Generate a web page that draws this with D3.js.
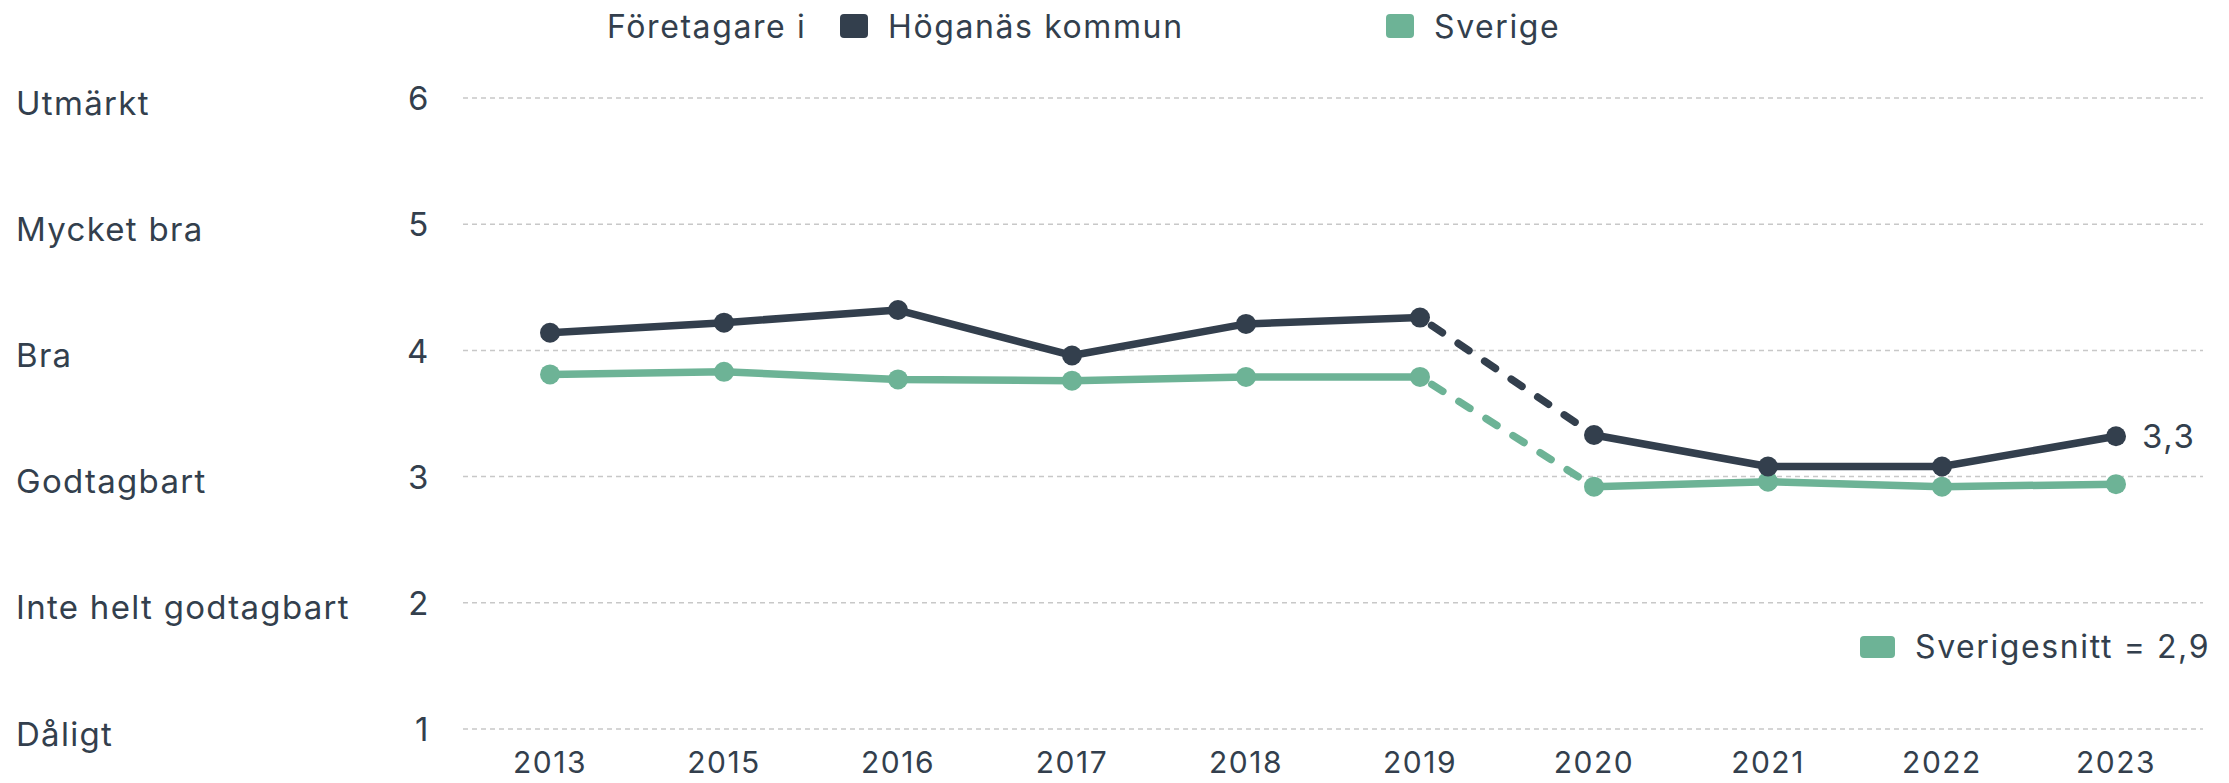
<!DOCTYPE html>
<html>
<head>
<meta charset="utf-8">
<script src="https://cdn.jsdelivr.net/npm/d3@7"></script>
<style>
  body { margin: 0; background: #fff; }
  text { font-family: Inter, "Noto Sans", sans-serif; fill: #333f4d; letter-spacing: 1.6px; }
</style>
</head>
<body>
<div id="chart"></div>
<script>
// years on the x axis
const years = ["2013", "2015", "2016", "2017", "2018", "2019", "2020", "2021", "2022", "2023"];
// index ratings per year
const hoganas = [4.14, 4.22, 4.32, 3.96, 4.21, 4.26, 3.33, 3.08, 3.08, 3.32];
const sverige = [3.81, 3.83, 3.77, 3.76, 3.79, 3.79, 2.92, 2.96, 2.92, 2.94];
// y ticks and their verbal grades
const yTicks = [1, 2, 3, 4, 5, 6];
const gradeLabels = ["Dåligt", "Inte helt godtagbart", "Godtagbart", "Bra", "Mycket bra", "Utmärkt"];
const seriesNames = ["Höganäs kommun", "Sverige"];
const lastLabel = "3,3";
const averageLabel = "Sverigesnitt = 2,9";
// the survey method changed between these two years, drawn dashed
const breakAfter = "2019";

const width = 2229;
const height = 783;
const margin = { top: 98, right: 26, bottom: 54, left: 463 };

const darkColor = "#333f4d";
const greenColor = "#6db396";

const svg = d3.select("#chart")
  .append("svg")
  .attr("width", width)
  .attr("height", height);

const x = d3.scaleBand()
  .domain(years)
  .range([margin.left, width - margin.right]);

const y = d3.scaleLinear()
  .domain([1, 6])
  .range([height - margin.bottom, margin.top]);

// gridlines
svg.append("g")
  .selectAll("line")
  .data(yTicks)
  .join("line")
  .attr("x1", margin.left)
  .attr("x2", width - margin.right)
  .attr("y1", d => y(d))
  .attr("y2", d => y(d))
  .attr("stroke", "#c8c8c8")
  .attr("stroke-width", 1.5)
  .attr("stroke-dasharray", "5,4");

// y axis numbers
svg.append("g")
  .selectAll("text")
  .data(yTicks)
  .join("text")
  .attr("x", 430)
  .attr("y", d => y(d))
  .attr("dy", "0.37em")
  .attr("text-anchor", "end")
  .style("font-size", "33px")
  .text(d => d);

// verbal grades
svg.append("g")
  .selectAll("text")
  .data(yTicks)
  .join("text")
  .attr("x", 16)
  .attr("y", d => y(d))
  .attr("dy", "0.5em")
  .style("font-size", "33px")
  .style("letter-spacing", "1.3px")
  .text((d, i) => gradeLabels[i]);

// x axis
const xAxis = svg.append("g")
  .attr("transform", `translate(0,${height - 10})`)
  .call(d3.axisBottom(x).tickSize(0).tickPadding(0));
xAxis.select(".domain").remove();
xAxis.selectAll("text")
  .attr("dy", 0)
  .style("font-family", "Inter, sans-serif")
  .style("font-size", "30px")
  .style("letter-spacing", "1.5px")
  .attr("fill", darkColor);

const cx = d => x(d) + x.bandwidth() / 2;

function drawSeries(values, color) {
  const pts = years.map((yr, i) => ({ yr, v: values[i] }));
  const b = years.indexOf(breakAfter);
  const line = d3.line().x(d => cx(d.yr)).y(d => y(d.v));
  const g = svg.append("g");

  [pts.slice(0, b + 1), pts.slice(b + 1)].forEach(seg => {
    g.append("path")
      .datum(seg)
      .attr("d", line)
      .attr("fill", "none")
      .attr("stroke", color)
      .attr("stroke-width", 7.5)
      .attr("stroke-linejoin", "round");
  });

  g.append("path")
    .datum(pts.slice(b, b + 2))
    .attr("d", line)
    .attr("fill", "none")
    .attr("stroke", color)
    .attr("stroke-width", 7.5)
    .attr("stroke-linecap", "round")
    .attr("stroke-dasharray", "13,19")
    .attr("stroke-dashoffset", -14);

  g.selectAll("circle")
    .data(pts)
    .join("circle")
    .attr("cx", d => cx(d.yr))
    .attr("cy", d => y(d.v))
    .attr("r", 10)
    .attr("fill", color);
  return pts;
}

drawSeries(sverige, greenColor);
const hPts = drawSeries(hoganas, darkColor);

// value label on the last point
const last = hPts[hPts.length - 1];
svg.append("text")
  .attr("x", cx(last.yr) + 26)
  .attr("y", y(last.v))
  .attr("dy", "0.36em")
  .style("font-size", "33px")
  .text(lastLabel);

// legend at the top
const legend = svg.append("g");
legend.append("text")
  .attr("x", 607)
  .attr("y", 38)
  .style("font-size", "32px")
  .text("Företagare i");

const legendItems = [
  { name: seriesNames[0], color: darkColor, x: 840 },
  { name: seriesNames[1], color: greenColor, x: 1386 }
];
const item = legend.selectAll(".item")
  .data(legendItems)
  .join("g")
  .attr("class", "item")
  .attr("transform", d => `translate(${d.x},0)`);
item.append("rect")
  .attr("y", 14)
  .attr("width", 28)
  .attr("height", 24)
  .attr("rx", 4)
  .attr("fill", d => d.color);
item.append("text")
  .attr("x", 48)
  .attr("y", 38)
  .style("font-size", "32px")
  .text(d => d.name);

// national average note
const avg = svg.append("g").attr("transform", "translate(1860,0)");
avg.append("rect")
  .attr("y", 636)
  .attr("width", 35)
  .attr("height", 22)
  .attr("rx", 4)
  .attr("fill", greenColor);
avg.append("text")
  .attr("x", 55)
  .attr("y", 658)
  .style("font-size", "32px")
  .text(averageLabel);
</script>
</body>
</html>
